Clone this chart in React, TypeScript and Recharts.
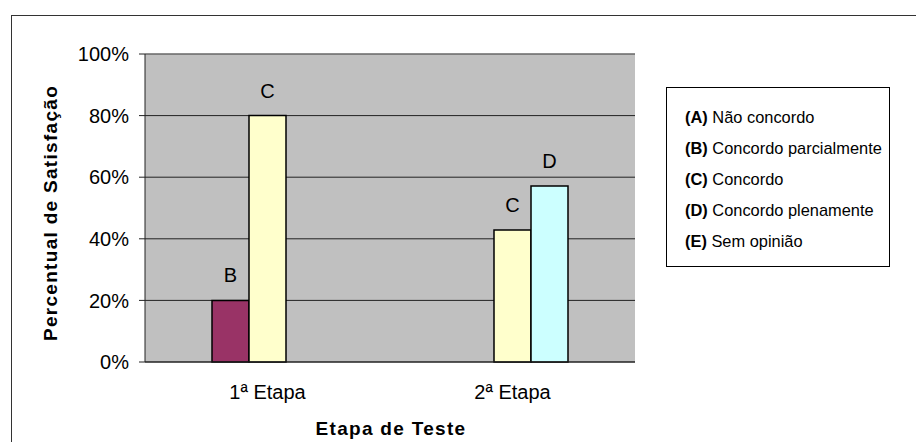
import React from 'react'
import {
  BarChart,
  Bar,
  XAxis,
  YAxis,
  CartesianGrid,
  Legend,
  LabelList,
  ReferenceLine,
} from 'recharts'

const etapas = ['1ª Etapa', '2ª Etapa']
const serieA = [0, 0]
const serieB = [20, 0]
const serieC = [80, 42.86]
const serieD = [0, 57.14]
const serieE = [0, 0]
const yTicks = [0, 0.2, 0.4, 0.6, 0.8, 1]

const codes = ['A', 'B', 'C', 'D', 'E']
const names = ['Não concordo', 'Concordo parcialmente', 'Concordo', 'Concordo plenamente', 'Sem opinião']
const colors = ['#9999FF', '#993366', '#FFFFCC', '#CCFFFF', '#660066']

const series = [serieA, serieB, serieC, serieD, serieE]

const data = etapas.map((etapa, i) => {
  const row: Record<string, any> = { etapa }
  codes.forEach((c, k) => {
    row[c] = series[k][i] / 100
  })
  return row
})

const FONT = 'Arial, "Liberation Sans", sans-serif'

function LetterLabel(letter: string) {
  return (props: any) => {
    const { x, y, width, value } = props
    if (!value) return null
    return (
      <text
        x={x + width / 2}
        y={y - 18}
        textAnchor="middle"
        fontFamily={FONT}
        fontSize={20}
        fill="#000"
      >
        {letter}
      </text>
    )
  }
}

function LegendBox() {
  return (
    <div
      style={{
        border: '1.5px solid #000',
        width: 224,
        height: 180,
        boxSizing: 'border-box',
        padding: '14px 0 0 18px',
        fontFamily: FONT,
        fontSize: 16.4,
        color: '#000',
        background: '#fff',
        textAlign: 'left',
      }}
    >
      {codes.map((c, i) => (
        <div key={c} style={{ height: 31, lineHeight: '31px', whiteSpace: 'nowrap' }}>
          <b>({c})</b> {names[i]}
        </div>
      ))}
    </div>
  )
}

export default function App() {
  return (
    <div style={{ position: 'absolute', left: 0, top: 0, width: 916, height: 442, background: '#fff', overflow: 'hidden' }}>
      <div
        style={{
          position: 'absolute',
          left: 11,
          top: 15,
          width: 1000,
          height: 600,
          borderTop: '1.5px solid #333',
          borderLeft: '1.5px solid #333',
        }}
      />
      <div style={{ position: 'absolute', left: 0, top: 0 }}>
        <BarChart
          width={916}
          height={442}
          data={data}
          margin={{ top: 54, right: 281, bottom: 0, left: 35 }}
          barCategoryGap={30}
          barGap={0}
        >
          <CartesianGrid fill="#C0C0C0" stroke="#222" vertical={false} yAxisId="l" />
          <XAxis
            xAxisId="edge"
            type="number"
            domain={[0, 2]}
            ticks={[0, 1, 2]}
            tick={false}
            axisLine={false}
            tickLine={{ stroke: '#666' }}
            tickSize={6}
            height={0}
          />
          <XAxis
            xAxisId="cat"
            dataKey="etapa"
            axisLine={{ stroke: '#222' }}
            tickLine={false}
            tickMargin={17}
            height={80}
            tick={{ fill: '#000', fontSize: 20, fontFamily: FONT }}
            label={{
              content: (p: any) => {
                const vb = p.viewBox
                return (
                  <text
                    x={vb.x + vb.width / 2 + 1}
                    y={435}
                    textAnchor="middle"
                    fontFamily={FONT}
                    fontWeight="bold"
                    fontSize={19}
                    letterSpacing={1.3}
                    fill="#000"
                  >
                    Etapa de Teste
                  </text>
                )
              },
            }}
          />
          <YAxis
            yAxisId="l"
            domain={[0, 1]}
            ticks={yTicks}
            width={110}
            axisLine={{ stroke: '#222' }}
            tickLine={{ stroke: '#222' }}
            tickSize={6}
            tickMargin={10}
            tickFormatter={(v) => `${Math.round(v * 100)}%`}
            tick={{ fill: '#000', fontSize: 20, fontFamily: FONT }}
            label={{
              content: (p: any) => {
                const vb = p.viewBox
                const cx = vb.x + 15
                const cy = vb.y + vb.height / 2 + 5
                return (
                  <text
                    x={cx}
                    y={cy}
                    transform={`rotate(-90 ${cx} ${cy})`}
                    textAnchor="middle"
                    dominantBaseline="central"
                    fontFamily={FONT}
                    fontWeight="bold"
                    fontSize={19}
                    letterSpacing={1.3}
                    fill="#000"
                  >
                    Percentual de Satisfação
                  </text>
                )
              },
            }}
          />
          <YAxis
            yAxisId="r"
            orientation="right"
            domain={[0, 1]}
            width={0}
            tick={false}
            tickLine={false}
            axisLine={{ stroke: '#888' }}
          />
          <ReferenceLine yAxisId="l" xAxisId="cat" y={1} stroke="#888" />
          <Legend
            layout="horizontal"
            verticalAlign="middle"
            align="center"
            content={() => <LegendBox />}
            wrapperStyle={{ position: 'absolute', left: 666, top: 87, width: 224, height: 180 }}
          />
          {codes.map((c, k) => (
            <Bar
              key={c}
              dataKey={c}
              xAxisId="cat"
              yAxisId="l"
              fill={colors[k]}
              stroke="#000"
              strokeWidth={1.5}
              isAnimationActive={false}
            >
              <LabelList dataKey={c} content={LetterLabel(c)} />
            </Bar>
          ))}
        </BarChart>
      </div>
    </div>
  )
}
